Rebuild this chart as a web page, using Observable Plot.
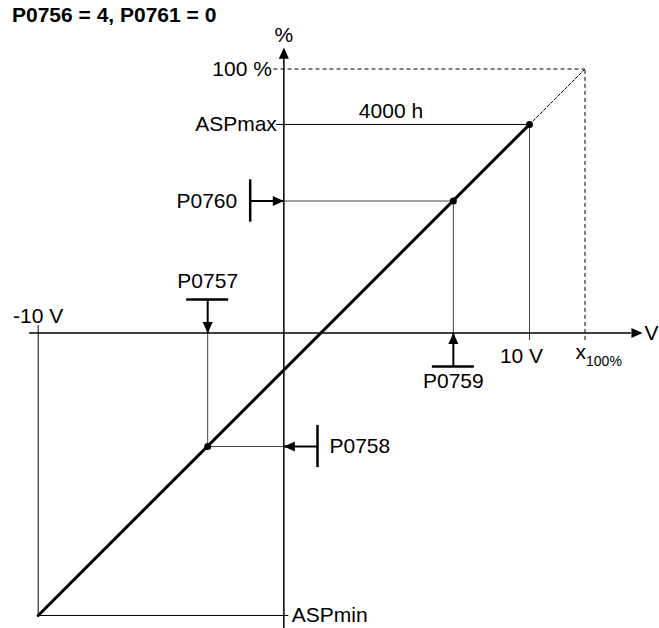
<!DOCTYPE html>
<html>
<head>
<meta charset="utf-8">
<script src="https://cdn.jsdelivr.net/npm/d3@7"></script>
<script src="https://cdn.jsdelivr.net/npm/@observablehq/plot@0.6"></script>
<style>
  html, body { margin: 0; padding: 0; background: white; }
  #title { font-family: Arial, "Liberation Sans", sans-serif; font-weight: bold; font-size: 21px;
           line-height: 18px; height: 18px; padding: 6px 0 0 12px; color: black; overflow: visible; }
</style>
</head>
<body>
<div id="title">P0756 = 4, P0761 = 0</div>
<div id="chart"></div>
<script>
// ---------- data (volts on x, percent on y) ----------
const inputVolts = [-10, 10];          // -10 V, 10 V
const outputPct  = [-107, 79];         // ASPmin, ASPmax
const p0757 = -3.1;                    // V  (input point 1)
const p0758 = -43;                     // %  (output point 1)
const p0759 = 6.9;                     // V  (input point 2)
const p0760 = 50;                      // %  (output point 2)
const fullPct = 100;                   // 100 %
const x100 = 12.26;                    // V at which line reaches 100 %
const xTickLabels = ["-10 V", "10 V"];
const yTickLabels = ["100 %", "ASPmax", "ASPmin"];
const paramNames = ["P0757", "P0758", "P0759", "P0760"];
const axisNames = ["V", "%"];
const rangeLabel = "4000 h";

// ---------- layout (data units) ----------
const L = {
  xAxisFrom: -10.35, xAxisTip: 14.6, xAxisHead: 14.15,
  yAxisTip: 108.1, yAxisHead: 104, yAxisBottom: -112,
  tickDown: -2.8, tickUp: 2.8,
  stemV: 12.7, barHalfV: 0.855, stemH: 1.37, barHalfH: 8,
  pctLabelY: 112.7
};

const arrowHead = {
  draw(ctx, size) {
    const r = Math.sqrt(size / Math.PI);
    const len = 2.4 * r, w = 1.1 * r;
    ctx.moveTo(0, 0); ctx.lineTo(-w, len); ctx.lineTo(w, len); ctx.closePath();
  }
};

const mainLine = inputVolts.map((v, i) => ({x: v, y: outputPct[i]}));
const ASPmin = outputPct[0], ASPmax = outputPct[1];
const thin = {stroke: "#444", strokeWidth: 1};
const blk = {stroke: "black", strokeWidth: 1};
const bar = {stroke: "black", strokeWidth: 2.5};
const stem = {stroke: "black", strokeWidth: 2};

function lab(t, x, y, opts = {}) {
  return Plot.text([{x, y, t}], {x: "x", y: "y", text: "t", fill: "black", fontSize: 21, ...opts});
}

const heads = [
  {x: L.xAxisTip, y: 0, a: 90},
  {x: 0, y: L.yAxisTip, a: 0},
  {x: p0757, y: 0, a: 180},
  {x: p0759, y: 0, a: 0},
  {x: 0, y: p0760, a: 90},
  {x: 0, y: p0758, a: -90}
];

const chart = Plot.plot({
  width: 659,
  height: 604,
  margin: 0,
  style: {fontFamily: "Arial, 'Liberation Sans', sans-serif", fontSize: "21px", background: "white"},
  x: {domain: [-10, 10], range: [37.7, 529], axis: null},
  y: {domain: [-110, 110], range: [598.9, 18.1], axis: null},
  marks: [
    // guide lines
    Plot.ruleY([fullPct], {x1: -0.4, x2: x100, ...blk, strokeDasharray: "4,3"}),
    Plot.ruleX([x100], {y1: L.tickDown, y2: fullPct, ...blk, strokeDasharray: "4,3"}),
    Plot.line([{x: 10, y: ASPmax}, {x: x100, y: fullPct}], {x: "x", y: "y", ...blk, strokeDasharray: "3,2"}),
    Plot.ruleY([ASPmax], {x1: -0.3, x2: 10, ...blk}),
    Plot.ruleX([10], {y1: L.tickDown, y2: ASPmax, ...thin}),
    Plot.ruleX([-10], {y1: ASPmin, y2: L.tickUp, ...blk}),
    Plot.ruleY([ASPmin], {x1: -10, x2: 0.2, ...blk}),
    Plot.ruleY([p0760], {x1: 0, x2: p0759, ...thin}),
    Plot.ruleX([p0759], {y1: 0, y2: p0760, ...thin}),
    Plot.ruleX([p0757], {y1: p0758, y2: 0, ...thin}),
    Plot.ruleY([p0758], {x1: p0757, x2: 0, ...thin}),
    // axes
    Plot.ruleY([0], {x1: L.xAxisFrom, x2: L.xAxisHead, stroke: "black", strokeWidth: 1.5}),
    Plot.ruleX([0], {y1: L.yAxisBottom, y2: L.yAxisHead, stroke: "black", strokeWidth: 1.5}),
    // characteristic
    Plot.line(mainLine, {x: "x", y: "y", stroke: "black", strokeWidth: 3}),
    Plot.dot([{x: 10, y: ASPmax}, {x: p0759, y: p0760}, {x: p0757, y: p0758}],
             {x: "x", y: "y", r: 3.5, fill: "black", stroke: "none"}),
    // parameter indicators
    Plot.ruleX([p0757], {y1: 0, y2: L.stemV, ...stem}),
    Plot.ruleY([L.stemV], {x1: p0757 - L.barHalfV, x2: p0757 + L.barHalfV, ...bar}),
    Plot.ruleX([p0759], {y1: -L.stemV, y2: 0, ...stem}),
    Plot.ruleY([-L.stemV], {x1: p0759 - L.barHalfV, x2: p0759 + L.barHalfV, ...bar}),
    Plot.ruleY([p0760], {x1: -L.stemH, x2: 0, ...stem}),
    Plot.ruleX([-L.stemH], {y1: p0760 - L.barHalfH, y2: p0760 + L.barHalfH, ...bar}),
    Plot.ruleY([p0758], {x1: 0, x2: L.stemH, ...stem}),
    Plot.ruleX([L.stemH], {y1: p0758 - L.barHalfH, y2: p0758 + L.barHalfH, ...bar}),
    Plot.dot(heads, {x: "x", y: "y", rotate: "a", symbol: arrowHead, r: 4.6, fill: "black", stroke: "none"}),
    // labels
    lab(axisNames[1], 0, L.pctLabelY, {textAnchor: "middle"}),
    lab(axisNames[0], L.xAxisTip, 0, {textAnchor: "start", dx: 2}),
    lab(yTickLabels[0], 0, fullPct, {textAnchor: "end", dx: -12}),
    lab(yTickLabels[1], 0, ASPmax, {textAnchor: "end", dx: -7}),
    lab(yTickLabels[2], 0, ASPmin, {textAnchor: "start", dx: 8}),
    lab(rangeLabel, 0, ASPmax, {textAnchor: "start", dx: 75, lineAnchor: "bottom", dy: -6.5}),
    lab(paramNames[3], -L.stemH, p0760, {textAnchor: "end", dx: -13}),
    lab(paramNames[1], L.stemH, p0758, {textAnchor: "start", dx: 12}),
    lab(paramNames[0], p0757, L.stemV, {textAnchor: "middle", lineAnchor: "bottom", dy: -11}),
    lab(paramNames[2], p0759, -L.stemV, {textAnchor: "middle", lineAnchor: "top", dy: 7}),
    lab(xTickLabels[0], -10, 0, {textAnchor: "middle", lineAnchor: "bottom", dy: -10.5}),
    lab(xTickLabels[1], 10, 0, {textAnchor: "middle", lineAnchor: "bottom", dx: -8, dy: 29.5}),
    lab("x", x100, 0, {textAnchor: "end", lineAnchor: "bottom", dx: 1, dy: 25.5}),
    lab("100%", x100, 0, {textAnchor: "start", lineAnchor: "bottom", dx: 1, dy: 33, fontSize: 14})
  ]
});
document.getElementById("chart").appendChild(chart);
</script>
</body>
</html>
